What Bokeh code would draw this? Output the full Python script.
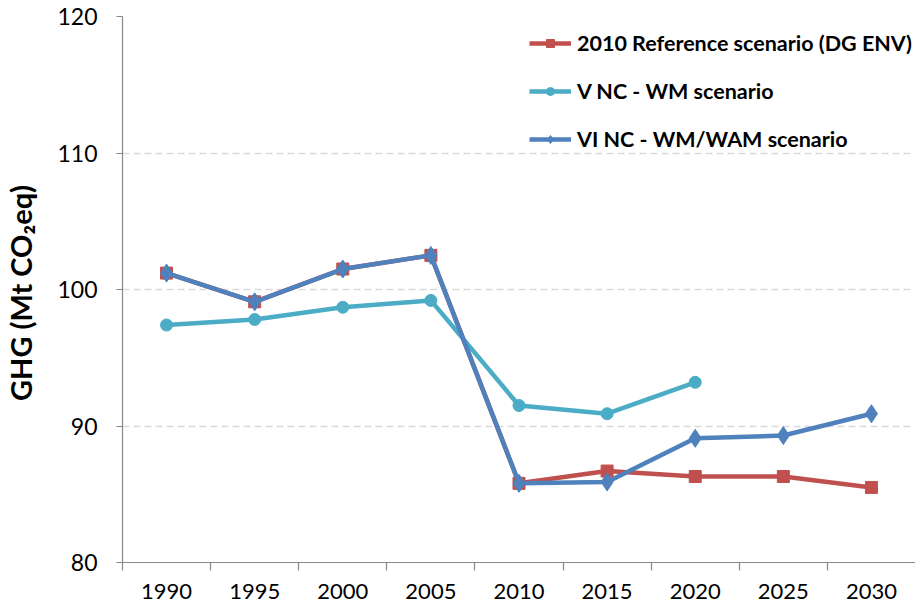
from bokeh.plotting import figure
from bokeh.models import Range1d, FixedTicker, Legend, LegendItem
from bokeh.embed import file_html
from bokeh.resources import INLINE

# ---- data ----
years = [1990, 1995, 2000, 2005, 2010, 2015, 2020, 2025, 2030]
ref_2010_dgenv = [101.2, 99.1, 101.5, 102.5, 85.8, 86.7, 86.3, 86.3, 85.5]
vnc_wm_years = [1990, 1995, 2000, 2005, 2010, 2015, 2020]
vnc_wm = [97.4, 97.8, 98.7, 99.2, 91.5, 90.9, 93.2]
vinc_wm_wam = [101.2, 99.1, 101.5, 102.5, 85.8, 85.9, 89.1, 89.3, 90.9]
series_names = [
    "2010 Reference scenario (DG ENV)",
    "V NC - WM scenario",
    "VI NC - WM/WAM scenario",
]
y_ticks = [80, 90, 100, 110, 120]

RED = "#C0504D"
CYAN = "#4BACC6"
BLUE = "#4F81BD"
FONT = "Lato"

p = figure(
    width=915, height=608,
    output_backend="svg", toolbar_location=None,
    x_range=Range1d(years[0] - 2.5, years[-1] + 2.5),
    y_range=Range1d(y_ticks[0], y_ticks[-1]),
    min_border_left=121, min_border_right=0, min_border_top=16, min_border_bottom=46,
)
p.outline_line_color = None
p.background_fill_color = "white"

# x axis: labels at years, tick marks between categories
boundaries = [y - 2.5 for y in years] + [years[-1] + 2.5]
p.xaxis.ticker = FixedTicker(ticks=years, minor_ticks=boundaries)
p.xaxis.major_tick_out = 0
p.xaxis.major_tick_in = 0
p.xaxis.minor_tick_out = 8
p.xaxis.minor_tick_in = 0
p.xaxis.minor_tick_line_color = "#898989"
p.xaxis.minor_tick_line_width = 1.2
p.xaxis.axis_line_color = "#898989"
p.xaxis.axis_line_width = 1.2
p.xaxis.major_label_text_font = FONT
p.xaxis.major_label_text_font_size = "22px"
p.xaxis.major_label_text_color = "#000000"
p.xaxis.major_label_standoff = 13
p.xgrid.grid_line_color = None

# y axis
p.yaxis.ticker = FixedTicker(ticks=y_ticks, minor_ticks=[])
p.yaxis.major_tick_out = 6
p.yaxis.major_tick_in = 0
p.yaxis.major_tick_line_color = "#898989"
p.yaxis.major_tick_line_width = 1.2
p.yaxis.axis_line_color = "#898989"
p.yaxis.axis_line_width = 1.2
p.yaxis.major_label_text_font = FONT
p.yaxis.major_label_text_font_size = "23px"
p.yaxis.major_label_text_color = "#000000"
p.yaxis.major_label_standoff = 19
p.yaxis.axis_label = "GHG  (Mt CO\u2082eq)"
p.yaxis.axis_label_text_font = FONT
p.yaxis.axis_label_text_font_size = "29px"
p.yaxis.axis_label_text_font_style = "bold"
p.yaxis.axis_label_text_color = "#000000"
p.yaxis.axis_label_standoff = 16
p.ygrid.grid_line_color = "#D9D9D9"
p.ygrid.grid_line_width = 1.5
p.ygrid.grid_line_dash = "7 4"

# series
r1l = p.line(years, ref_2010_dgenv, line_color=RED, line_width=4.5)
r1m = p.scatter(years, ref_2010_dgenv, marker="square", size=12, fill_color=RED, line_color=RED)
r2l = p.line(vnc_wm_years, vnc_wm, line_color=CYAN, line_width=4.5)
r2m = p.scatter(vnc_wm_years, vnc_wm, marker="circle", size=12, fill_color=CYAN, line_color=CYAN)
r3l = p.line(years, vinc_wm_wam, line_color=BLUE, line_width=4.5)
r3m = p.scatter(years, vinc_wm_wam, marker="diamond", size=18, fill_color=BLUE, line_color=BLUE)

legend = Legend(
    items=[
        LegendItem(label=series_names[0], renderers=[r1l, r1m]),
        LegendItem(label=series_names[1], renderers=[r2l, r2m]),
        LegendItem(label=series_names[2], renderers=[r3l, r3m]),
    ],
    location=(407, 410),
    glyph_width=42, glyph_height=20, label_height=20,
    spacing=22, label_standoff=6, padding=0, margin=0,
    border_line_color=None, background_fill_alpha=0,
    label_text_font=FONT, label_text_font_style="bold",
    label_text_font_size="21.5px", label_text_color="#000000",
)
p.add_layout(legend)

open("out.html", "w").write(file_html(p, INLINE))
